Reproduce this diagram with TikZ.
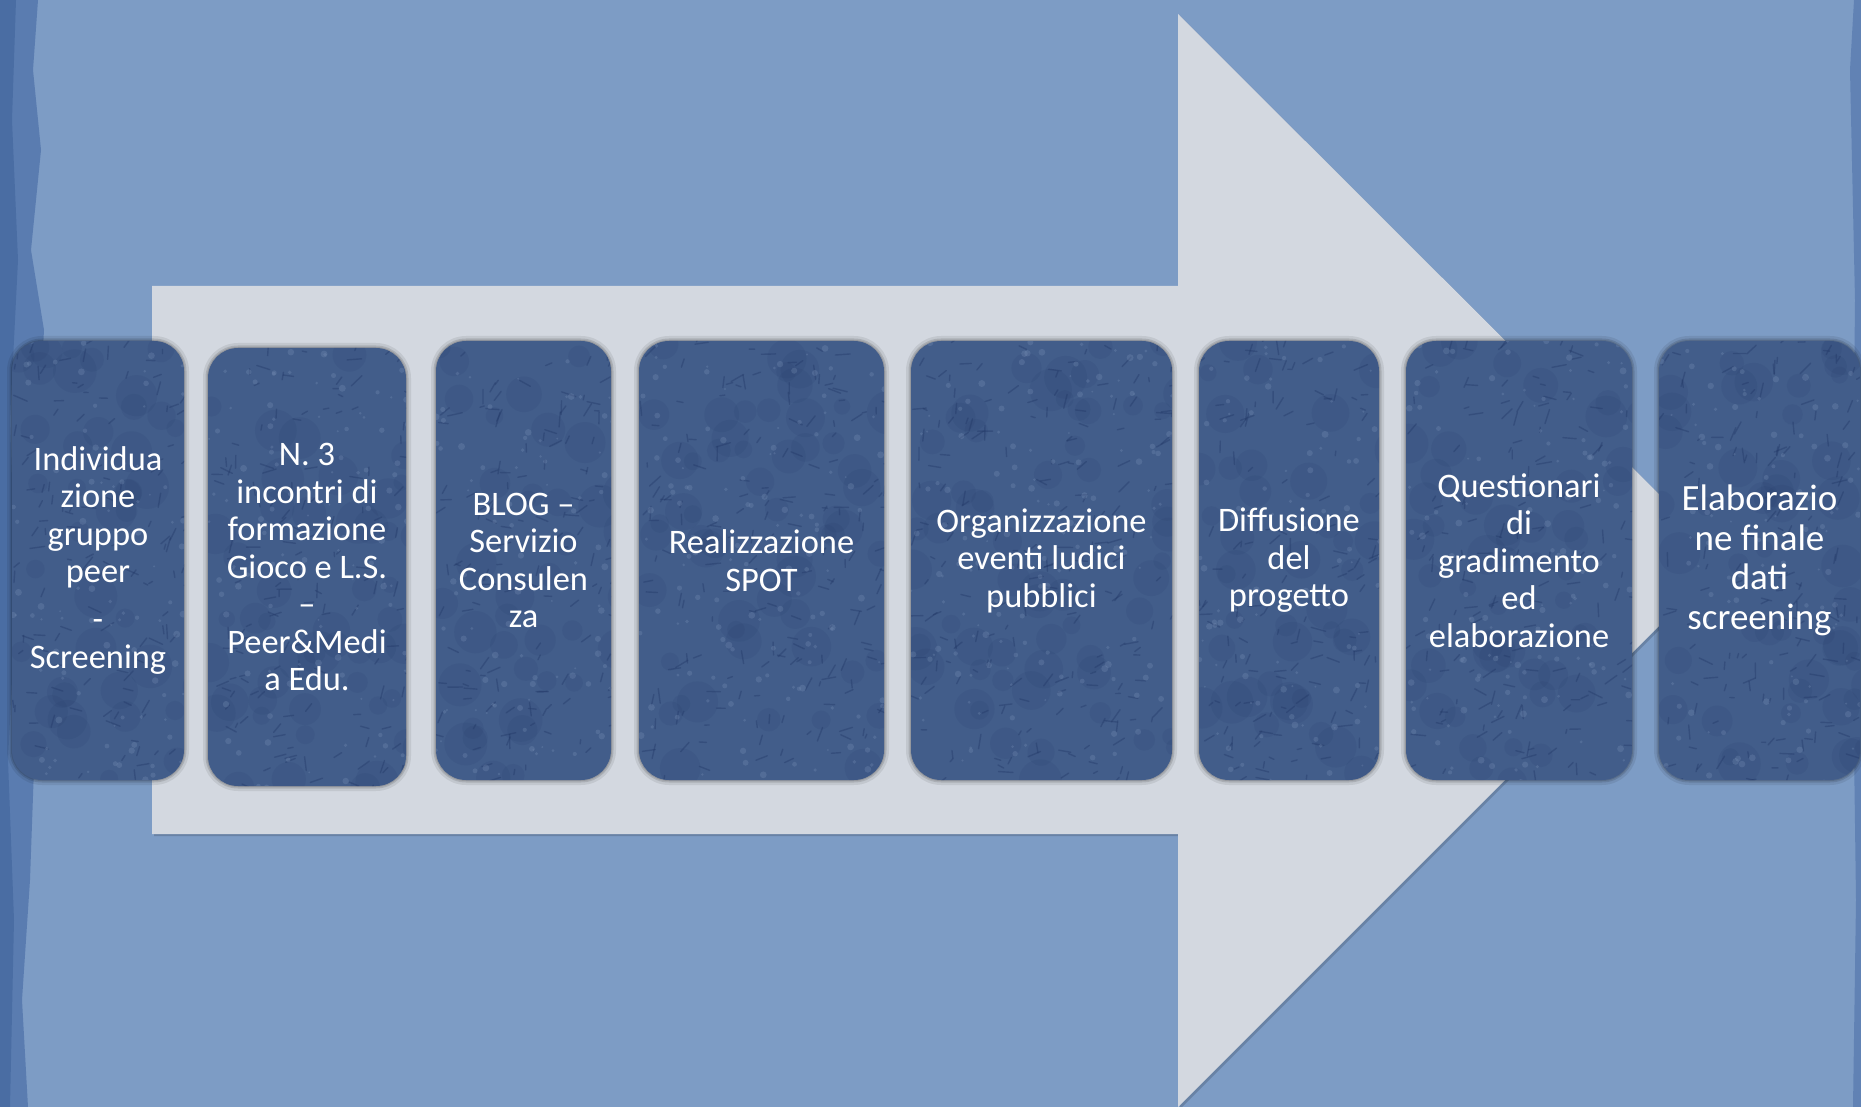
\documentclass[tikz,border=0pt]{standalone}
\usepackage{fontspec}
\setmainfont{Carlito}
\usetikzlibrary{calc}
\definecolor{bgblue}{HTML}{7D9CC5}
\definecolor{edgeblue}{HTML}{5A7CB0}
\definecolor{edgedark}{HTML}{4A6DA3}
\definecolor{arrowgray}{HTML}{D3D8E0}
\definecolor{boxblue}{HTML}{425D8A}
\definecolor{texdark}{HTML}{1F3564}
\definecolor{texlight}{HTML}{7890B6}

\newcommand{\boxtexture}{%
  \foreach \k in {1,...,60}{%
    \pgfmathsetmacro{\px}{rnd*270}%
    \pgfmathsetmacro{\py}{rnd*445}%
    \pgfmathsetmacro{\rr}{8+rnd*14}%
    \fill[texdark, opacity=0.10]
      ([shift={(\px pt,-\py pt)}]path picture bounding box.north west) circle (\rr pt);
  }%
  \foreach \k in {1,...,200}{%
    \pgfmathsetmacro{\px}{rnd*270}%
    \pgfmathsetmacro{\py}{rnd*445}%
    \pgfmathsetmacro{\an}{-30+rnd*130}%
    \pgfmathsetmacro{\ln}{4+rnd*11}%
    \draw[texdark, opacity=0.36, line width=1.4pt, line cap=round]
      ([shift={(\px pt,-\py pt)}]path picture bounding box.north west) -- ++(\an:\ln pt);
  }%
  \foreach \k in {1,...,150}{%
    \pgfmathsetmacro{\px}{rnd*270}%
    \pgfmathsetmacro{\py}{rnd*445}%
    \pgfmathsetmacro{\rr}{1+rnd*2.5}%
    \fill[texlight, opacity=0.30]
      ([shift={(\px pt,-\py pt)}]path picture bounding box.north west) circle (\rr pt);
  }%
}

\tikzset{
  stepbox/.style={
    rectangle, rounded corners=30pt, fill=boxblue, draw=none,
    text=white, align=center, inner sep=0pt,
    minimum height=439pt,
    font=\fontsize{34.4}{37.5}\selectfont,
    preaction={draw=black, opacity=0.08, line width=10pt},
    preaction={draw=black, opacity=0.12, line width=5pt},
    preaction={draw=black, opacity=0.12, line width=2pt},
    path picture={\boxtexture}
  },
  bigarrow/.style={fill=arrowgray, draw=none},
}

\begin{document}
\begin{tikzpicture}[x=1pt,y=-1pt]
\pgfmathsetseed{42}
\useasboundingbox (0,0) rectangle (1861,1107);
% background
\fill[bgblue] (0,0) rectangle (1861,1107);
\fill[edgeblue] (0,0) -- (38,0) -- (33,70) -- (41,150) -- (31,250) -- (44,330)
  -- (36,480) -- (27,600) -- (35,740) -- (30,880) -- (22,1000) -- (28,1107) -- (0,1107) -- cycle;
\fill[edgedark] (0,0) -- (16,0) -- (12,120) -- (18,260) -- (10,420) -- (16,600)
  -- (8,760) -- (14,920) -- (10,1107) -- (0,1107) -- cycle;
\fill[edgeblue, opacity=0.8] (1861,0) -- (1861,1107) -- (1853,1107) -- (1856,900)
  -- (1852,600) -- (1855,300) -- (1850,70) -- (1854,0) -- cycle;
% big arrow
\fill[black, opacity=0.16, shift={(2,2)}] (152,286) -- (1178,286) -- (1178,14) -- (1725,560)
  -- (1178,1107) -- (1178,834) -- (152,834) -- cycle;
\path[bigarrow] (152,286) -- (1178,286) -- (1178,14) -- (1725,560)
  -- (1178,1107) -- (1178,834) -- (152,834) -- cycle;
% steps
\node[stepbox, minimum width=172pt] (b1) at (98,560.5)
  {Individua\\zione\\gruppo\\peer\\[10pt]-\\[1pt]Screening};
\node[stepbox, minimum width=198pt, minimum height=438pt] (b2) at (307,567)
  {N. 3\\incontri di\\formazione\\Gioco e L.S.\\–\\Peer\&Medi\\a Edu.};
\node[stepbox, minimum width=175pt] (b3) at (523.5,560.5)
  {BLOG –\\Servizio\\Consulen\\za};
\node[stepbox, minimum width=245pt] (b4) at (761.5,560.5)
  {Realizzazione\\SPOT};
\node[stepbox, minimum width=261pt] (b5) at (1041.5,560.5)
  {Organizzazione\\eventi ludici\\pubblici};
\node[stepbox, minimum width=180pt] (b6) at (1289,560.5)
  {Diffusione\\del\\progetto};
\node[stepbox, minimum width=226pt] (b7) at (1519,560.5)
  {Questionari\\di\\gradimento\\ed\\elaborazione};
\node[stepbox, minimum width=201pt, font=\fontsize{37}{39.5}\selectfont] (b8) at (1759.5,560.5)
  {Elaborazio\\ne finale\\dati\\screening};
\end{tikzpicture}
\end{document}
